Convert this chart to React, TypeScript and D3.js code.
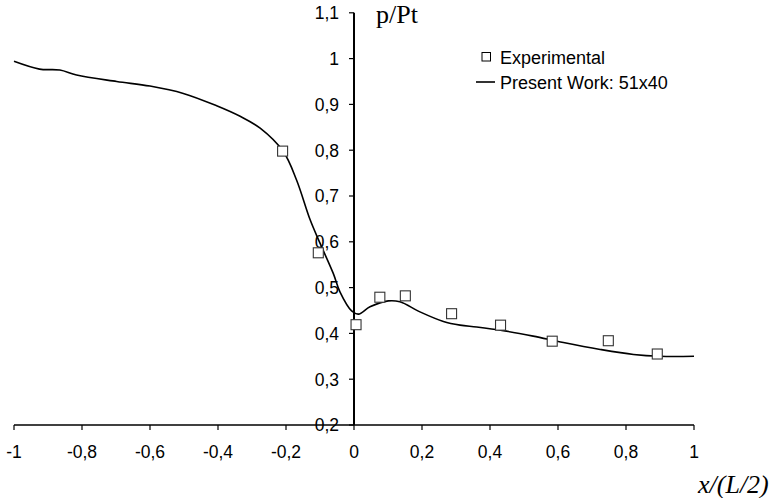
import React from "react";
import * as d3 from "d3";

// Experimental pressure ratio measurements
const expX = [-0.21, -0.105, 0.006, 0.076, 0.151, 0.287, 0.431, 0.583, 0.748, 0.892];
const expY = [0.798, 0.576, 0.419, 0.479, 0.482, 0.443, 0.418, 0.383, 0.384, 0.355];

// Numerical solution on the 51x40 grid
const simX = [-1, -0.925, -0.865, -0.816, -0.698, -0.6, -0.502, -0.404, -0.335, -0.276, -0.208, -0.169, -0.129, -0.1, -0.061, -0.041, -0.007, 0.013, 0.047, 0.101, 0.135, 0.194, 0.263, 0.312, 0.361, 0.439, 0.527, 0.616, 0.724, 0.822, 0.9, 1.0];
const simY = [0.994, 0.977, 0.975, 0.964, 0.95, 0.94, 0.924, 0.897, 0.874, 0.848, 0.797, 0.735, 0.648, 0.597, 0.531, 0.49, 0.449, 0.442, 0.458, 0.471, 0.469, 0.447, 0.426, 0.418, 0.414, 0.406, 0.394, 0.38, 0.365, 0.354, 0.35, 0.35];

const xTicks = [-1, -0.8, -0.6, -0.4, -0.2, 0, 0.2, 0.4, 0.6, 0.8, 1];
const yTicks = [0.2, 0.3, 0.4, 0.5, 0.6, 0.7, 0.8, 0.9, 1, 1.1];

const W = 771;
const H = 498;

const fmt = (v: number) => {
  const s = d3.format("")(+v.toFixed(1));
  return s.replace(".", ",").replace("−", "-");
};

export default function App() {
  const x = d3.scaleLinear().domain([-1, 1]).range([14, 694]);
  const y = d3.scaleLinear().domain([0.2, 1.1]).range([425, 12.8]);

  const line = d3
    .line<number>()
    .x((_, i) => x(simX[i]))
    .y((d) => y(d))
    .curve(d3.curveCatmullRom.alpha(0.5));

  const tickFont = "Liberation Sans, Arial, sans-serif";
  const serif = "Liberation Serif, Times New Roman, serif";
  const ms = 10;

  return (
    <svg
      width={W}
      height={H}
      style={{ position: "absolute", left: 0, top: 0, background: "#fff" }}
    >
      {/* x axis along p/Pt = 0.2 */}
      <line x1={x(-1)} x2={x(1)} y1={y(0.2)} y2={y(0.2)} stroke="#000" strokeWidth={1.3} />
      {xTicks.map((t) => (
        <g key={"xt" + t}>
          <line x1={x(t)} x2={x(t)} y1={y(0.2)} y2={y(0.2) + 5} stroke="#000" strokeWidth={1.2} />
          <text
            x={x(t)}
            y={458}
            textAnchor="middle"
            fontFamily={tickFont}
            fontSize={17.5}
            fill="#000"
          >
            {fmt(t)}
          </text>
        </g>
      ))}

      {/* y axis through x = 0 */}
      <line x1={x(0)} x2={x(0)} y1={y(0.2)} y2={y(1.1)} stroke="#000" strokeWidth={2} />
      {yTicks.map((t) => (
        <g key={"yt" + t}>
          <line x1={x(0) - 5} x2={x(0)} y1={y(t)} y2={y(t)} stroke="#000" strokeWidth={1.2} />
          <text
            x={339}
            y={y(t)}
            dy="0.36em"
            textAnchor="end"
            fontFamily={tickFont}
            fontSize={17.5}
            fill="#000"
          >
            {fmt(t)}
          </text>
        </g>
      ))}

      {/* computed curve */}
      <path d={line(simY) ?? ""} fill="none" stroke="#000" strokeWidth={1.6} />

      {/* experimental points */}
      {expX.map((v, i) => (
        <rect
          key={"e" + i}
          x={x(v) - ms / 2}
          y={y(expY[i]) - ms / 2}
          width={ms}
          height={ms}
          fill="#fff"
          stroke="#333"
          strokeWidth={1.1}
        />
      ))}

      {/* axis titles */}
      <text x={376} y={23} fontFamily={serif} fontSize={26} fill="#000">
        p/Pt
      </text>
      <text x={698} y={493} fontFamily={serif} fontStyle="italic" fontSize={26} fill="#000">
        x/(L/2)
      </text>

      {/* legend */}
      <rect x={482} y={52.5} width={8.5} height={8.5} fill="#fff" stroke="#000" strokeWidth={1} />
      <text x={500} y={63.5} fontFamily={tickFont} fontSize={18} fill="#000">
        Experimental
      </text>
      <line x1={476} x2={495} y1={82} y2={82} stroke="#000" strokeWidth={1.6} />
      <text x={500} y={88.5} fontFamily={tickFont} fontSize={18} fill="#000">
        Present Work: 51x40
      </text>
    </svg>
  );
}
